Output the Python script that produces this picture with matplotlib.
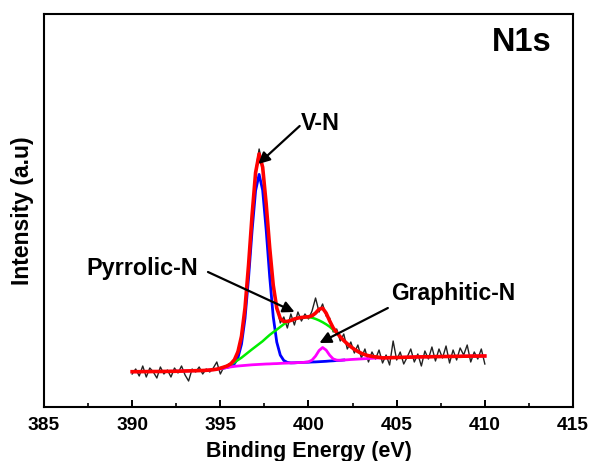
#%%
# N1s XPS spectrum with peak fit
import numpy as np
import matplotlib
matplotlib.use("Agg")
import matplotlib.pyplot as plt

plt.rcParams['font.family'] = ['Liberation Sans', 'DejaVu Sans']
plt.rcParams['font.weight'] = 'bold'

#%% data (arbitrary intensity units)
energy = np.round(np.arange(390.0, 410.001, 0.2), 1)

raw = [33, 38, 31, 41, 30, 39, 35, 29, 40, 33,
       37, 30, 39, 34, 41, 32, 26, 38, 35, 40,
       33, 38, 35, 39, 45, 33, 40, 42, 44, 46,
       57, 69, 101, 140, 195, 236, 258, 241, 200, 162,
       120, 101, 84, 90, 79, 93, 82, 95, 86, 93,
       88, 96, 109, 95, 103, 91, 89, 75, 78, 66,
       73, 58, 65, 54, 62, 49, 58, 45, 55, 48,
       57, 44, 52, 42, 66, 47, 55, 43, 50, 58,
       45, 53, 41, 56, 48, 60, 46, 58, 49, 61,
       44, 57, 47, 59, 52, 62, 45, 55, 48, 58,
       43]

background = [35.3, 35.3, 35.3, 35.4, 35.4, 35.4, 35.5, 35.5, 35.5, 35.6,
              35.6, 35.7, 35.7, 35.8, 35.9, 36.0, 36.1, 36.2, 36.3, 36.4,
              36.5, 36.7, 37.0, 37.3, 37.8, 38.3, 38.9, 39.6, 40.1, 40.6,
              41.0, 41.3, 41.6, 41.9, 42.2, 42.4, 42.6, 42.8, 43.0, 43.1,
              43.3, 43.4, 43.6, 43.8, 43.9, 44.1, 44.2, 44.4, 44.5, 44.7,
              44.8, 45.0, 45.1, 45.3, 45.5, 45.7, 46.0, 46.2, 46.5, 46.7,
              47.0, 47.2, 47.5, 47.7, 47.9, 48.1, 48.3, 48.5, 48.7, 48.9,
              49.0, 49.1, 49.2, 49.3, 49.4, 49.5, 49.6, 49.7, 49.8, 49.9,
              50.0, 50.1, 50.1, 50.2, 50.2, 50.3, 50.4, 50.4, 50.5, 50.5,
              50.6, 50.6, 50.7, 50.7, 50.8, 50.8, 50.9, 50.9, 50.9, 51.0,
              51.0]

# peak components, height above background, each from its own start energy
vn_start = 395.6
vn_peak = [0.7, 2.7, 8.3, 21.5, 47, 87, 134, 174, 190,
           174, 134, 87, 47, 21.5, 8.3, 2.7, 0.7]

pyr_start = 395.0
pyr_peak = [0.5, 1.0, 1.5, 2.5, 4.0, 6.0, 8.0, 10.5, 13.0, 15.5,
            18.0, 20.5, 23.0, 26.0, 29.0, 31.5, 34.0, 36.5, 39.0, 41.0,
            42.5, 43.8, 44.6, 45.0, 45.2, 45.0, 44.3, 43.0, 41.3, 39.3,
            37.0, 34.3, 31.0, 27.5, 23.5, 19.5, 16.0, 12.8, 10.0, 7.6,
            5.6, 4.0, 2.8, 1.9, 1.2, 0.7]

gra_start = 400.0
gra_peak = [0.4, 1.9, 5.8, 11.2, 14.0, 11.2, 5.8, 1.9, 0.4]


def on_grid(start, heights):
    out = np.zeros(len(energy))
    i = int(round((start - energy[0]) / 0.2))
    out[i:i + len(heights)] = heights
    return out


bg = np.array(background)
vn = on_grid(vn_start, vn_peak)
pyr = on_grid(pyr_start, pyr_peak)
gra = on_grid(gra_start, gra_peak)
envelope = bg + vn + pyr + gra

#%% plot
fig = plt.figure(figsize=(5.89, 4.61), dpi=100)
ax = fig.add_axes([44 / 589, 54 / 461, 529 / 589, 393 / 461])

ax.plot(energy, raw, color='#222222', lw=1.0)

blue_rng = (energy >= 395.0) & (energy <= 402.0)
green_rng = (energy >= 395.0) & (energy <= 404.0)
ax.plot(energy[blue_rng], (bg + vn)[blue_rng], color='#0000ff', lw=2.0)
ax.plot(energy[green_rng], (bg + pyr)[green_rng], color='#00ee00', lw=1.8)
ax.plot(energy, bg + gra, color='#ff00ff', lw=2.0)
ax.plot(energy, envelope, color='#ff0000', lw=2.6)

ax.set_xlim(385, 415)
ax.set_ylim(0, 393)
ax.set_xticks(np.arange(385, 416, 5))
ax.set_xticks(np.arange(387.5, 415, 5), minor=True)
ax.set_yticks([])
ax.tick_params(axis='x', which='major', direction='in', length=5, width=1.4,
               labelsize=13.8, pad=7)
ax.tick_params(axis='x', which='minor', direction='in', length=3, width=1.2)
for s in ax.spines.values():
    s.set_linewidth(1.5)

ax.set_xlabel('Binding Energy (eV)', fontsize=15.5, fontweight='bold', labelpad=5)
ax.set_ylabel('Intensity (a.u)', fontsize=16.5, fontweight='bold', labelpad=7)

arrow = dict(arrowstyle='-|>', color='black', lw=1.6, mutation_scale=17,
             shrinkA=0, shrinkB=0)
ax.annotate('', xy=(397.15, 243), xytext=(399.5, 281), arrowprops=arrow)
ax.annotate('', xy=(399.21, 95), xytext=(394.3, 135), arrowprops=arrow)
ax.annotate('', xy=(400.62, 64), xytext=(404.5, 99), arrowprops=arrow)

ax.text(400.68, 284, 'V-N', fontsize=16.8, fontweight='bold', ha='center', va='center')
ax.text(390.58, 138.5, 'Pyrrolic-N', fontsize=16.8, fontweight='bold', ha='center', va='center')
ax.text(408.21, 113.5, 'Graphitic-N', fontsize=16.5, fontweight='bold', ha='center', va='center')
ax.text(412.1, 364.5, 'N1s', fontsize=23.5, fontweight='bold', ha='center', va='center')

fig.savefig('out.png', dpi=100)
